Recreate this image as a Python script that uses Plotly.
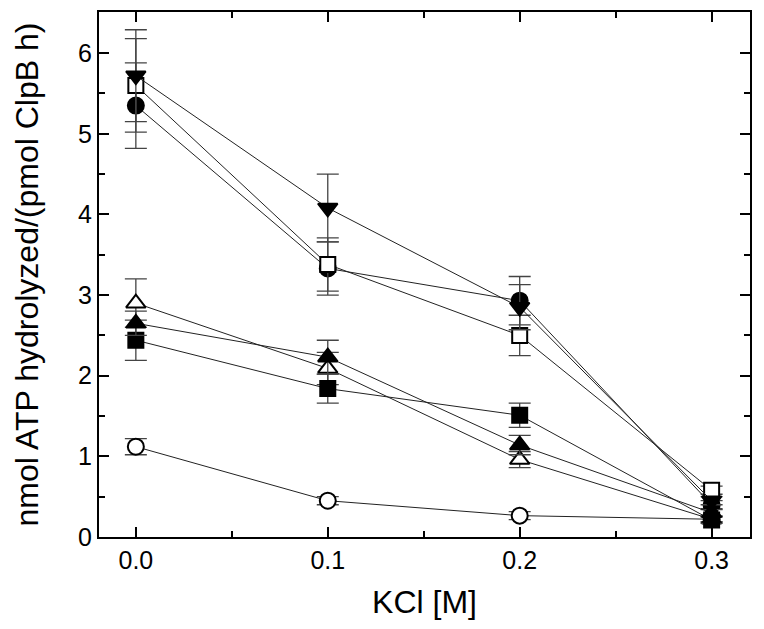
import plotly.graph_objects as go

kcl = [0.0, 0.1, 0.2, 0.3]

filled_circle = [5.35, 3.33, 2.93, 0.40]
filled_circle_err = [0.53, 0.33, 0.30, 0.05]
open_square = [5.60, 3.38, 2.50, 0.58]
open_square_err = [0.58, 0.33, 0.25, 0.05]
filled_down = [5.72, 4.08, 2.85, 0.45]
filled_down_err = [0.57, 0.42, 0.28, 0.05]
filled_square = [2.44, 1.84, 1.51, 0.21]
filled_square_err = [0.25, 0.18, 0.15, 0.04]
filled_up = [2.65, 2.23, 1.14, 0.30]
filled_up_err = [0.15, 0.21, 0.12, 0.04]
open_up = [2.90, 2.09, 0.96, 0.22]
open_up_err = [0.30, 0.20, 0.10, 0.04]
open_circle = [1.12, 0.45, 0.265, 0.22]
open_circle_err = [0.10, 0.05, 0.05, 0.03]

# drawing order: later traces are drawn on top
series = [
    (open_circle, open_circle_err, "circle", "white", 16),
    (open_up, open_up_err, "triangle-up", "white", 17),
    (filled_circle, filled_circle_err, "circle", "black", 16),
    (open_square, open_square_err, "square", "white", 15),
    (filled_down, filled_down_err, "triangle-down", "black", 17),
    (filled_square, filled_square_err, "square", "black", 15),
    (filled_up, filled_up_err, "triangle-up", "black", 17),
]

fig = go.Figure()
for vals, errs, sym, fill, size in series:
    fig.add_trace(go.Scatter(
        x=kcl, y=vals, mode="lines+markers",
        line=dict(color="#222222", width=1),
        marker=dict(symbol=sym, size=size, color=fill,
                    line=dict(color="black", width=2)),
        error_y=dict(type="data", array=errs, visible=True,
                     color="#444444", thickness=1.3, width=11),
        showlegend=False,
    ))

font_family = "Liberation Sans, Arial, sans-serif"
fig.update_layout(
    width=764, height=629,
    margin=dict(l=91, r=22, t=2, b=100),
    paper_bgcolor="white", plot_bgcolor="white",
    font=dict(family=font_family, color="black"),
)
fig.update_xaxes(
    range=[-0.0192, 0.320], tickvals=[0.0, 0.1, 0.2, 0.3], tickformat=".1f",
    ticks="inside", ticklen=10, tickwidth=1.5, tickcolor="black",
    minor=dict(dtick=0.05, tick0=0, ticks="inside", ticklen=6, tickwidth=1.5, tickcolor="black"),
    showline=True, linecolor="black", linewidth=2, mirror="ticks",
    showgrid=False, zeroline=False,
    tickfont=dict(size=25), title=dict(text="KCl [M]", font=dict(size=32), standoff=18),
)
fig.update_yaxes(
    range=[0, 6.51], tickvals=[0, 1, 2, 3, 4, 5, 6],
    ticks="inside", ticklen=10, tickwidth=1.5, tickcolor="black",
    minor=dict(dtick=0.5, tick0=0, ticks="inside", ticklen=6, tickwidth=1.5, tickcolor="black"),
    showline=True, linecolor="black", linewidth=2, mirror="ticks",
    showgrid=False, zeroline=False,
    tickfont=dict(size=25), title=dict(text="nmol ATP hydrolyzed/(pmol ClpB h)", font=dict(size=32), standoff=30),
)

fig.write_html("out.html")
